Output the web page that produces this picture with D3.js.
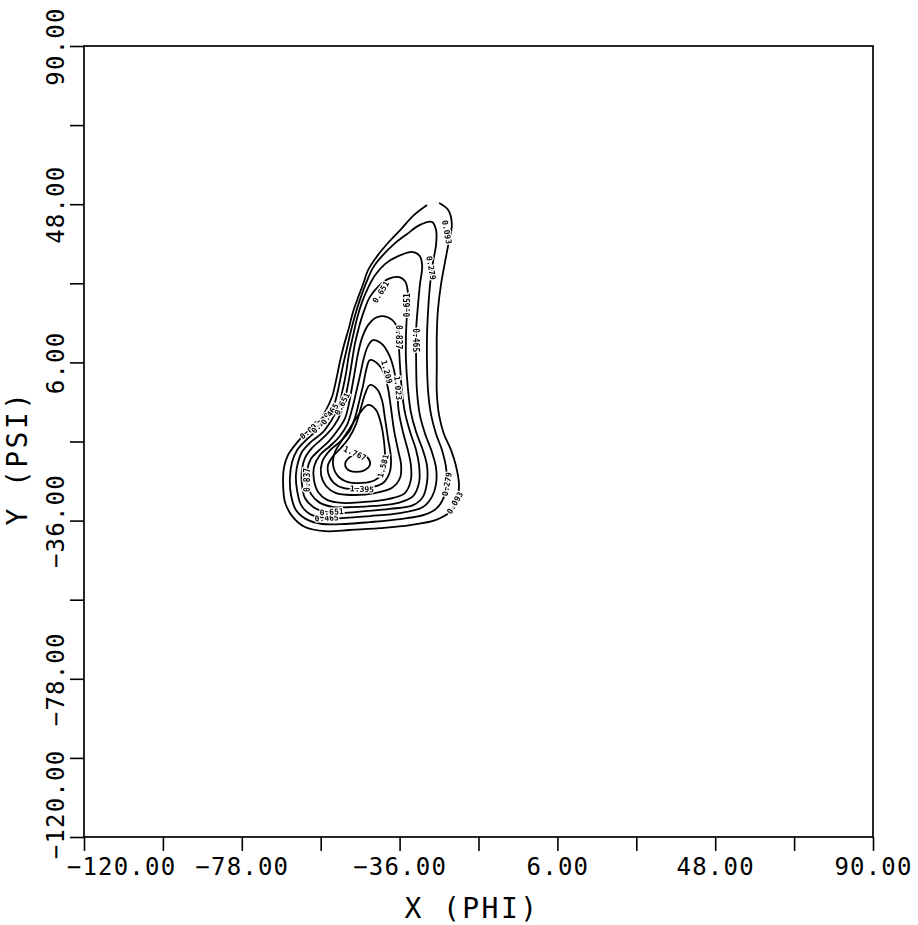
<!DOCTYPE html>
<html>
<head>
<meta charset="utf-8">
<script src="https://cdn.jsdelivr.net/npm/d3@7"></script>
<style>
  html, body { margin: 0; padding: 0; background: #fff; }
  svg { display: block; }
  text { font-family: "DejaVu Sans Mono", "Liberation Mono", monospace; fill: #000; }
</style>
</head>
<body>
<svg id="chart" width="918" height="925"></svg>
<script>
'use strict';

// contour levels of the density map
var levels = [0.093, 0.279, 0.465, 0.651, 0.837, 1.023, 1.209, 1.395, 1.581, 1.767];

var majorTicks = [-120, -78, -36, 6, 48, 90];
var minorTicks = [-99, -57, -15, 27, 69];

// contour lines as [phi, psi]
var ring0093 = [
  [-25.5, 48.3], [-23.1, 46.5], [-22.1, 42.7], [-22.9, 38.0], [-23.9, 32.7], [-25.0, 26.6],
  [-25.8, 19.9], [-26.1, 13.3], [-26.1, 5.3], [-26.1, -1.9], [-25.5, -8.0], [-24.2, -13.0],
  [-22.3, -17.3], [-21.0, -21.5], [-20.2, -26.3], [-20.7, -30.5], [-22.6, -33.7], [-26.3, -35.8],
  [-33.2, -37.2], [-41.2, -38.0], [-49.2, -38.5], [-55.9, -38.8], [-61.2, -37.7], [-64.6, -34.8],
  [-66.5, -31.1], [-67.0, -26.6], [-66.8, -22.0], [-65.7, -18.6], [-63.8, -15.9], [-61.2, -13.0],
  [-58.2, -10.6], [-55.9, -7.2], [-54.0, -3.2], [-52.9, 1.3], [-51.9, 6.1], [-50.8, 10.6],
  [-49.5, 15.1], [-48.4, 19.4], [-47.1, 23.1], [-45.7, 26.8], [-44.4, 30.5], [-42.0, 34.2],
  [-39.1, 37.7], [-35.6, 41.4], [-32.2, 45.1], [-28.7, 47.8]
];

var ring0279 = [
  [-27.4, 43.3], [-26.3, 41.2], [-26.3, 37.2], [-27.1, 32.7], [-27.9, 26.6], [-28.4, 19.9],
  [-28.7, 13.3], [-28.7, 5.3], [-28.4, -1.9], [-27.6, -8.0], [-26.3, -13.0], [-24.7, -17.3],
  [-23.7, -21.5], [-23.4, -25.8], [-24.2, -29.7], [-26.1, -32.7], [-29.5, -34.5], [-35.9, -35.6],
  [-43.9, -36.4], [-50.5, -36.9], [-56.6, -36.9], [-60.9, -35.6], [-63.6, -33.2], [-64.9, -29.2],
  [-65.2, -24.7], [-64.6, -20.4], [-63.3, -17.3], [-60.9, -14.6], [-57.7, -11.7], [-55.1, -8.5],
  [-53.2, -4.5], [-52.1, 0.0], [-51.1, 5.0], [-50.0, 9.8], [-48.9, 14.6], [-47.6, 19.4],
  [-46.3, 23.4], [-44.9, 27.1], [-43.1, 31.1], [-40.7, 34.2], [-37.5, 37.4], [-34.0, 40.1],
  [-30.6, 42.5]
];

var ring0465 = [
  [-32.4, 35.3], [-30.6, 34.2], [-30.0, 31.6], [-30.6, 26.6], [-31.1, 21.2], [-31.6, 14.6],
  [-31.6, 6.6], [-31.4, -1.3], [-30.6, -8.0], [-29.2, -13.0], [-27.4, -17.8], [-26.3, -22.0],
  [-26.3, -26.3], [-27.4, -29.7], [-29.8, -32.4], [-35.9, -34.0], [-43.9, -34.8], [-50.5, -35.3],
  [-55.9, -35.3], [-59.8, -34.3], [-62.2, -31.9], [-63.3, -27.9], [-63.6, -23.9], [-63.0, -20.4],
  [-62.0, -17.8], [-59.6, -15.1], [-56.4, -12.5], [-54.3, -9.6], [-52.4, -6.1], [-51.3, -1.9],
  [-50.3, 2.9], [-49.5, 8.0], [-48.4, 13.0], [-47.3, 17.8], [-46.0, 22.0], [-44.4, 25.8],
  [-42.5, 29.2], [-39.9, 32.1], [-36.4, 34.2]
];

var ring0651 = [
  [-36.4, 28.7], [-34.6, 27.6], [-33.8, 24.7], [-34.0, 19.9], [-34.3, 13.3], [-34.3, 6.6],
  [-33.8, -0.8], [-33.0, -7.2], [-31.6, -12.5], [-29.8, -17.3], [-28.7, -21.5], [-28.7, -25.8],
  [-29.8, -29.7], [-32.4, -31.9], [-38.6, -32.9], [-45.2, -33.5], [-51.3, -34.0], [-55.9, -33.7],
  [-59.0, -32.4], [-61.2, -30.0], [-62.0, -26.3], [-62.0, -22.6], [-61.2, -19.4], [-59.3, -16.7],
  [-56.1, -13.8], [-53.5, -10.9], [-51.6, -7.4], [-50.5, -3.5], [-49.5, 1.3], [-48.7, 6.1],
  [-47.9, 10.9], [-46.8, 15.4], [-45.5, 19.6], [-43.9, 23.4], [-41.5, 26.3], [-39.1, 28.1]
];

var ring0837 = [
  [-40.4, 18.3], [-38.0, 17.3], [-36.4, 14.6], [-36.2, 10.6], [-35.9, 5.3], [-35.4, -1.3],
  [-34.6, -7.2], [-33.2, -12.5], [-31.6, -17.3], [-30.8, -21.5], [-30.8, -25.8], [-32.4, -29.5],
  [-36.4, -31.3], [-42.5, -32.1], [-48.7, -32.4], [-53.5, -32.4], [-57.2, -31.3], [-59.6, -28.9],
  [-60.6, -25.8], [-60.6, -22.6], [-59.6, -19.6], [-57.4, -17.3], [-54.8, -14.9], [-52.4, -11.9],
  [-50.5, -8.8], [-49.5, -5.0], [-48.7, -0.8], [-47.9, 3.7], [-47.1, 8.2], [-46.0, 12.5],
  [-44.4, 15.9], [-42.5, 17.8]
];

var ring1023 = [
  [-43.1, 11.9], [-40.7, 10.9], [-38.8, 8.0], [-37.5, 4.0], [-36.7, -1.3], [-36.2, -7.2],
  [-35.1, -12.5], [-33.8, -17.3], [-33.0, -21.2], [-33.0, -25.2], [-34.6, -28.7], [-39.1, -30.3],
  [-46.0, -31.1], [-51.3, -31.3], [-55.3, -30.5], [-57.7, -28.4], [-58.8, -25.2], [-58.8, -21.8],
  [-57.2, -18.6], [-54.5, -16.2], [-52.1, -13.8], [-50.0, -10.6], [-48.7, -6.6], [-47.6, -2.1],
  [-46.5, 2.7], [-45.5, 7.2], [-44.4, 10.4]
];

var ring1209 = [
  [-43.9, 6.6], [-41.8, 5.6], [-40.2, 3.2], [-39.1, -0.8], [-38.3, -6.1], [-37.5, -11.9],
  [-36.4, -17.3], [-35.6, -21.2], [-35.9, -24.7], [-38.0, -27.3], [-42.5, -28.7], [-48.7, -29.2],
  [-52.9, -28.7], [-55.6, -26.8], [-56.9, -23.9], [-56.6, -20.4], [-54.5, -17.3], [-51.9, -15.1],
  [-49.5, -12.5], [-47.9, -8.8], [-46.8, -4.5], [-45.7, 0.0], [-44.9, 4.0]
];

var ring1395 = [
  [-43.9, 0.0], [-42.0, -1.1], [-40.7, -4.0], [-39.9, -8.8], [-39.1, -14.1], [-38.3, -19.4],
  [-38.6, -23.1], [-40.4, -26.0], [-44.4, -27.3], [-49.2, -27.6], [-52.4, -26.8], [-54.5, -24.7],
  [-55.1, -21.5], [-53.7, -18.9], [-51.6, -16.7], [-49.5, -14.1], [-47.6, -10.4], [-46.3, -6.1],
  [-45.2, -2.4]
];

var ring1581 = [
  [-44.4, -5.3], [-42.3, -6.6], [-41.0, -10.1], [-40.2, -14.6], [-39.9, -19.4], [-40.4, -23.1],
  [-42.5, -25.2], [-46.0, -26.0], [-49.7, -25.8], [-52.4, -24.2], [-53.7, -21.2], [-53.2, -17.8],
  [-51.3, -14.6], [-49.2, -11.4], [-47.1, -8.2]
];

var ring1767 = [
  [-49.2, -19.1], [-46.5, -18.3], [-44.4, -19.4], [-43.9, -21.2], [-45.7, -22.8], [-49.2, -22.8],
  [-50.5, -21.2]
];

// [text, phi, psi, angle]
var contourLabels = [
  ['0.093', -23.4, 40.6, 80],
  ['0.279', -27.6, 31.1, 80],
  ['0.651', -41.0, 24.7, -58],
  ['0.651', -34.0, 21.2, -90],
  ['0.465', -31.6, 11.9, 90],
  ['0.837', -36.2, 12.7, 90],
  ['1.209', -39.4, 3.5, 75],
  ['1.023', -36.4, -0.8, 85],
  ['1.767', -47.9, -18.1, 25],
  ['1.581', -40.4, -21.5, -75],
  ['1.395', -46.0, -27.6, 3],
  ['0.465', -55.4, -35.3, -3],
  ['0.651', -54.1, -33.7, -3],
  ['0.837', -60.6, -25.2, -90],
  ['0.279', -23.4, -26.3, -80],
  ['0.093', -21.3, -31.3, -60],
  ['0.093', -59.8, -11.9, -40],
  ['0.279', -57.0, -10.1, -50],
  ['0.465', -54.6, -7.7, -55],
  ['0.651', -51.3, -5.0, -62]
];

var rings = [ring0093, ring0279, ring0465, ring0651, ring0837,
             ring1023, ring1209, ring1395, ring1581, ring1767];

var svg = d3.select('#chart');

var x = d3.scaleLinear().domain([-120, 90]).range([84, 873]);
var y = d3.scaleLinear().domain([-120, 90]).range([837, 46]);

// a no-op filter: draws the small labels off-screen so they get grey, not coloured, smoothing
svg.append('defs').append('filter').attr('id', 'flat')
  .append('feOffset').attr('dx', 0).attr('dy', 0);

svg.append('rect')
  .attr('width', 918).attr('height', 925).attr('fill', '#fff');

// frame
svg.append('rect')
  .attr('x', x(-120)).attr('y', y(90))
  .attr('width', x(90) - x(-120)).attr('height', y(-120) - y(90))
  .attr('fill', 'none').attr('stroke', '#000').attr('stroke-width', 1.7);

var fmt = d3.format('.2f');
var allTicks = majorTicks.concat(minorTicks);
var tickText = function (d) { return majorTicks.indexOf(d) >= 0 ? fmt(d) : ''; };

var gx = svg.append('g')
  .attr('transform', 'translate(0,' + y(-120) + ')')
  .call(d3.axisBottom(x).tickValues(allTicks).tickSize(14).tickSizeOuter(0).tickFormat(tickText));
gx.attr('font-family', null).attr('font-size', 24).attr('letter-spacing', 1.2);
gx.select('.domain').remove();
gx.selectAll('.tick line').attr('stroke', '#000').attr('stroke-width', 1.6);
gx.selectAll('.tick text')
  .attr('y', 38).attr('dy', 0).attr('fill', '#000')
  .attr('x', function (d) { return d === -120 ? 37 : 0; });

var gy = svg.append('g')
  .attr('transform', 'translate(' + x(-120) + ',0)')
  .call(d3.axisLeft(y).tickValues(allTicks).tickSize(14).tickSizeOuter(0).tickFormat(tickText));
gy.attr('font-family', null).attr('font-size', 24).attr('letter-spacing', 1.2);
gy.select('.domain').remove();
gy.selectAll('.tick line').attr('stroke', '#000').attr('stroke-width', 1.6);
gy.selectAll('.tick text')
  .attr('transform', 'rotate(-90)')
  .attr('text-anchor', 'middle')
  .attr('fill', '#000')
  .attr('dy', 0)
  .attr('y', -20)
  .attr('x', function (d) { return d === -120 ? 33 : 0; });

// axis titles
svg.append('text')
  .attr('x', 472).attr('y', 918)
  .attr('text-anchor', 'middle')
  .attr('font-size', 28)
  .attr('letter-spacing', 2.4)
  .text('X (PHI)');

svg.append('text')
  .attr('transform', 'translate(27,458) rotate(-90)')
  .attr('text-anchor', 'middle')
  .attr('font-size', 28)
  .attr('letter-spacing', 2.4)
  .text('Y (PSI)');

// contour lines
var openLine = d3.line()
  .x(function (d) { return x(d[0]); })
  .y(function (d) { return y(d[1]); })
  .curve(d3.curveCatmullRom.alpha(0.5));

var closedLine = d3.line()
  .x(function (d) { return x(d[0]); })
  .y(function (d) { return y(d[1]); })
  .curve(d3.curveCatmullRomClosed.alpha(0.5));

svg.append('g')
  .selectAll('path')
  .data(rings)
  .join('path')
  .attr('d', function (d, i) { return i === 0 ? openLine(d) : closedLine(d); })
  .attr('fill', 'none')
  .attr('stroke', '#000')
  .attr('stroke-width', 1.8);

// level labels
svg.append('g')
  .attr('filter', 'url(#flat)')
  .selectAll('text')
  .data(contourLabels)
  .join('text')
  .attr('transform', function (d) {
    return 'translate(' + x(d[1]) + ',' + y(d[2]) + ') rotate(' + d[3] + ')';
  })
  .attr('text-anchor', 'middle')
  .attr('dy', '0.35em')
  .attr('font-size', 8)
  .attr('font-weight', 'bold')
  .attr('stroke', '#fff')
  .attr('stroke-width', 2.5)
  .attr('paint-order', 'stroke')
  .text(function (d) { return d[0]; });
</script>
</body>
</html>
